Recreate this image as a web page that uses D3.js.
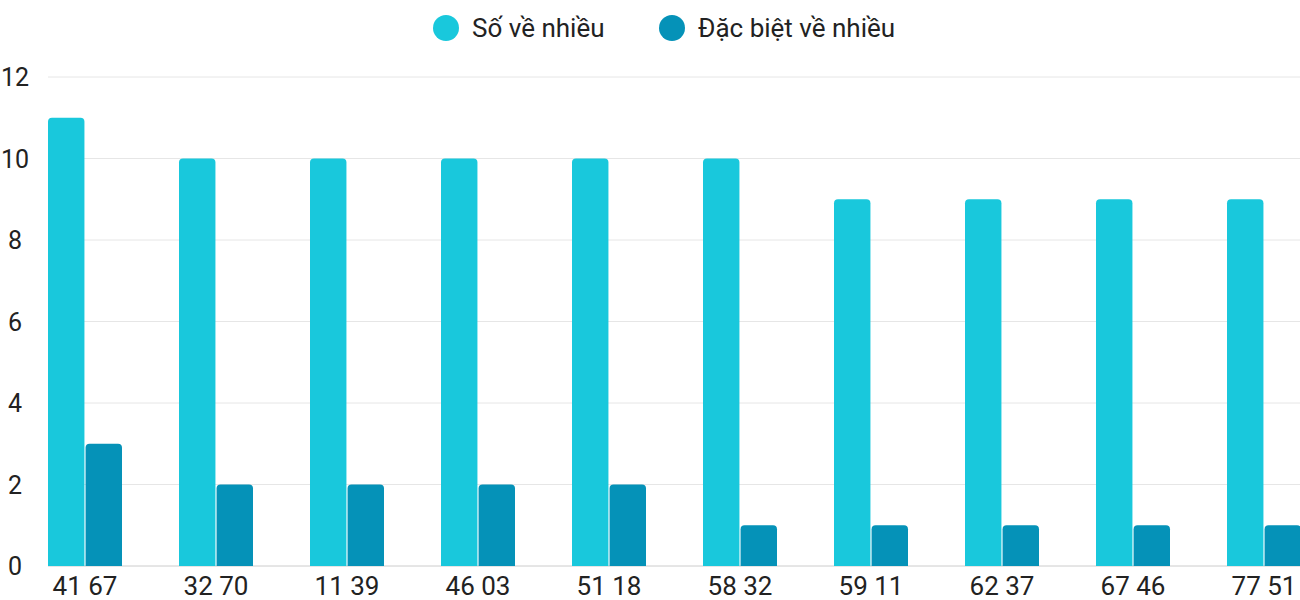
<!DOCTYPE html>
<html><head><meta charset="utf-8">
<script src="https://cdn.jsdelivr.net/npm/d3@7"></script>
<style>body{margin:0;background:#fff}text{font-family:Roboto,sans-serif}</style>
</head><body><svg id="chart" width="1300" height="600"></svg>
<script>
const categories = ["41 67","32 70","11 39","46 03","51 18","58 32","59 11","62 37","67 46","77 51"];
const seriesNames = ["Số về nhiều","Đặc biệt về nhiều"];
const soVeNhieu = [11,10,10,10,10,10,9,9,9,9];
const dacBiet = [3,2,2,2,2,1,1,1,1,1];
const yTicks = [0,2,4,6,8,10,12];
const colors = ["#19c8dc","#0592b8"];

const svg = d3.select("#chart");
const y = d3.scaleLinear().domain([0,12]).range([566,77]);
const x = d3.scaleBand().domain(categories).range([48,1301]).paddingInner(57/131).paddingOuter(0);
const xs = d3.scaleBand().domain([0,1]).range([0,x.bandwidth()]).paddingInner(0.03);

svg.append("g").selectAll("line").data(yTicks).join("line")
  .attr("x1",48).attr("x2",1300).attr("y1",d=>y(d)).attr("y2",d=>y(d))
  .attr("stroke",d=>d===0?"#ccc":"#e6e6e6");
svg.append("g").selectAll("text").data(yTicks).join("text")
  .attr("x",15).attr("y",d=>y(d)+9).attr("text-anchor","middle")
  .attr("font-size",25).attr("fill","#222").text(d=>d);

const bar = (x0,y0,w,h,r) => `M${x0},${y0+h}V${y0+r}Q${x0},${y0} ${x0+r},${y0}H${x0+w-r}Q${x0+w},${y0} ${x0+w},${y0+r}V${y0+h}Z`;
[soVeNhieu,dacBiet].forEach((vals,s)=>{
  svg.append("g").selectAll("path").data(vals).join("path")
    .attr("fill",colors[s])
    .attr("d",(d,i)=>bar(x(categories[i])+xs(s),y(d),xs.bandwidth(),y(0)-y(d),4));
});
svg.append("g").selectAll("text").data(categories).join("text")
  .attr("x",d=>x(d)+x.bandwidth()/2).attr("y",595).attr("text-anchor","middle")
  .attr("font-size",26).attr("fill","#222").text(d=>d);

const lx = [446,672];
const lg = svg.append("g").selectAll("g").data(seriesNames).join("g")
  .attr("transform",(d,i)=>`translate(${lx[i]},28)`);
lg.append("circle").attr("r",13).attr("fill",(d,i)=>colors[i]);
lg.append("text").attr("x",26).attr("y",9).attr("font-size",26).attr("fill","#222").text(d=>d);
</script></body></html>
